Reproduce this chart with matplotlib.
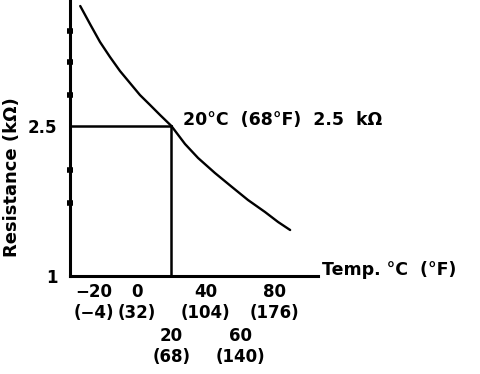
import numpy as np
import matplotlib
matplotlib.use("Agg")
import matplotlib.pyplot as plt
from matplotlib.transforms import ScaledTranslation

# Data
temps_c = [-33, -27, -21.5, -15.7, -9.9, -4.1, 1.7, 7.6, 13.4, 20, 27.9, 35.5, 45.3, 55.2, 64.5, 74.4, 82, 89]
resist_k = [3.70, 3.51, 3.34, 3.19, 3.05, 2.93, 2.81, 2.71, 2.61, 2.5, 2.32, 2.18, 2.03, 1.89, 1.76, 1.64, 1.54, 1.46]
ref_temp = 20
ref_res = 2.5
major_ticks = [-20, 0, 40, 80]
major_labels = ["\u221220\n(\u22124)", "0\n(32)", "40\n(104)", "80\n(176)"]
minor_ticks = [20, 60]
minor_labels = ["20\n(68)", "60\n(140)"]
y_ticks = [1, 2.5]
y_tick_labels = ["1", "2.5"]
y_dots = [1.73, 2.06, 2.81, 3.14, 3.45]

plt.rcParams['font.family'] = ['DejaVu Sans']
fig = plt.figure(figsize=(4.8, 3.74), dpi=100)
ax = fig.add_axes([70/480, 98/374, 248/480, 276/374])
ax.set_xlim(-38.95, 105.2)
ax.set_ylim(1, 3.76)

ax.plot(temps_c, resist_k, color='black', lw=1.7, solid_capstyle='round', solid_joinstyle='round')
ax.plot([-38.95, ref_temp], [ref_res, ref_res], color='black', lw=1.8)
ax.plot([ref_temp, ref_temp], [1, ref_res], color='black', lw=1.8)

for s in ['top', 'right']:
    ax.spines[s].set_visible(False)
for s in ['left', 'bottom']:
    ax.spines[s].set_linewidth(2.2)

fs = 12
ax.set_xticks(major_ticks)
ax.set_xticklabels(major_labels, fontsize=fs, fontweight='bold', linespacing=1.2)
ax.set_xticks(minor_ticks, minor=True)
ax.set_xticklabels(minor_labels, minor=True, fontsize=fs, fontweight='bold', linespacing=1.2)
ax.tick_params(axis='x', which='major', length=0, pad=5)
ax.tick_params(axis='x', which='minor', length=0, pad=37)
lab0 = ax.get_xticklabels()[0]
lab0.set_transform(lab0.get_transform() + ScaledTranslation(-9/100, 0, fig.dpi_scale_trans))

ax.set_yticks(y_ticks)
ax.set_yticklabels(y_tick_labels, fontsize=fs, fontweight='bold')
ax.set_yticks(y_dots, minor=True)
ax.tick_params(axis='y', which='major', length=0, pad=9)
ax.tick_params(axis='y', which='minor', length=4, width=4, direction='inout')

ax.annotate("20\u00b0C  (68\u00b0F)  2.5  k\u03a9", xy=(ref_temp, ref_res), xytext=(8, 4),
            textcoords='offset points', va='center', ha='left', fontsize=12.5, fontweight='bold')
ax.annotate("Temp. \u00b0C  (\u00b0F)", xy=(1, 0), xycoords='axes fraction', xytext=(3, 4),
            textcoords='offset points', va='center', ha='left', fontsize=12.5, fontweight='bold',
            annotation_clip=False)
fig.text(12/480, 1 - 177/374, "Resistance (k\u03a9)", rotation=90, va='center', ha='center',
         fontsize=13, fontweight='bold')

fig.savefig("out.png", dpi=100)
